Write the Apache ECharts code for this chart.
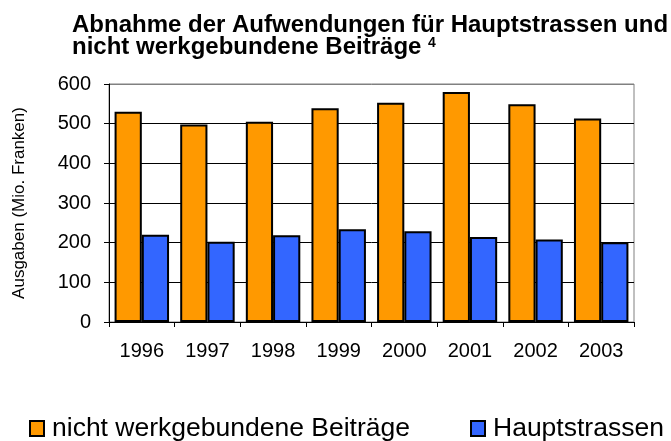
<!DOCTYPE html>
<html><head><meta charset="utf-8">
<script src="https://cdn.jsdelivr.net/npm/echarts@6/dist/echarts.min.js"></script>
<style>html,body{margin:0;padding:0;background:#fff}#c{width:671px;height:441px}</style>
</head><body><div id="c"></div>
<script>
const categories = ['1996','1997','1998','1999','2000','2001','2002','2003'];
const beitraege = [530, 498, 505, 539, 553, 580, 549, 513];
const hauptstrassen = [220, 202, 219, 234, 229, 214, 208, 201];
const yTicks = [0, 100, 200, 300, 400, 500, 600];
const seriesNames = ['nicht werkgebundene Beiträge', 'Hauptstrassen'];

const F = 'Liberation Sans, Arial, sans-serif';
const chart = echarts.init(document.getElementById('c'));
chart.setOption({
  animation: false,
  backgroundColor: '#fff',
  title: {
    left: 67, top: 9,
    text: '{a|Abnahme der Aufwendungen für Hauptstrassen und}\n{a|nicht werkgebundene Beiträge }{s|4}',
    textStyle: {
      rich: {
        a: {fontFamily: F, fontWeight: 'bold', fontSize: 24, color: '#000', lineHeight: 22},
        s: {fontFamily: F, fontWeight: 'bold', fontSize: 14, color: '#000', verticalAlign: 'top', lineHeight: 22, padding: [0,0,10,0]}
      }
    }
  },
  legend: [
    {left: 24, top: 410, data: [seriesNames[0]], itemWidth: 14, itemHeight: 15, itemGap: 0,
     textStyle: {fontFamily: F, fontSize: 26.5, color: '#000', padding: [0,0,0,3]}, icon: 'rect'},
    {left: 465, top: 410, data: [seriesNames[1]], itemWidth: 14, itemHeight: 15, itemGap: 0,
     textStyle: {fontFamily: F, fontSize: 26.5, color: '#000', padding: [0,0,0,3]}, icon: 'rect'}
  ],
  grid: {left: 109, right: 37, top: 84, bottom: 119, show: true, borderColor: '#808080', borderWidth: 1},
  xAxis: {
    type: 'category', data: categories,
    axisLine: {lineStyle: {color: '#000', width: 1}},
    axisTick: {show: true, length: 5, lineStyle: {color: '#000'}},
    axisLabel: {fontFamily: F, fontSize: 20, color: '#000', margin: 19}
  },
  yAxis: {
    type: 'value', min: 0, max: 600, interval: 100,
    name: 'Ausgaben (Mio. Franken)', nameLocation: 'middle', nameGap: 81,
    nameTextStyle: {fontFamily: F, fontSize: 17, color: '#000'},
    axisLine: {show: true, lineStyle: {color: '#000'}},
    axisTick: {show: true, length: 5, inside: false, lineStyle: {color: '#000'}},
    axisLabel: {fontFamily: F, fontSize: 20, color: '#000', margin: 18,
      formatter: v => yTicks.includes(v) ? String(v) : ''},
    splitLine: {show: true, lineStyle: {color: ['#000','#000','#000','#000','#000','#000','#808080'], width: 1}}
  },
  series: [
    {name: seriesNames[0], type: 'bar', data: beitraege, barGap: '0%', barCategoryGap: '17%',
     itemStyle: {color: '#FF9900', borderColor: '#000', borderWidth: 2}},
    {name: seriesNames[1], type: 'bar', data: hauptstrassen, barGap: '0%', barCategoryGap: '17%',
     itemStyle: {color: '#3366FF', borderColor: '#000', borderWidth: 2}}
  ]
});
</script></body></html>
